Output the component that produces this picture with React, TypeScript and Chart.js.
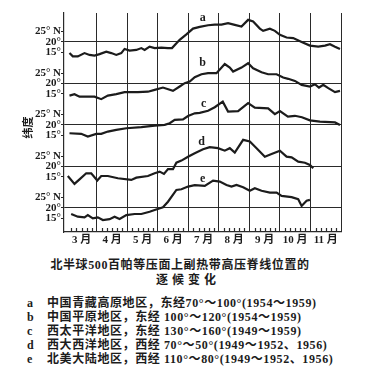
import React, { useEffect, useRef } from "react";
import { Chart, registerables } from "chart.js";

Chart.register(...registerables);

// Month labels (x axis, 6 pentads per month, March..November)
const MONTH_LABELS = ["3 月", "4 月", "5 月", "6 月", "7 月", "8 月", "9 月", "10 月", "11 月"];
const PENTADS_PER_MONTH = 6;
const TOTAL_PENTADS = 54;

// Y tick latitudes repeated in each panel
const Y_TICK_LATS = [15, 20, 25];
const Y_TICK_LABELS = ["15°", "20°", "25° N"];
const Y_TITLE = "纬度";

// Series names and vertical panel offsets (degrees)
const SERIES_NAMES = ["a", "b", "c", "d", "e"];
const PANEL_OFFSETS = [80, 60, 40, 20, 0];

// a 中国青藏高原地区
const aPentad = [0.63, 1.28, 2.26, 3.58, 4.57, 5.55, 6.54, 7.86, 8.84, 9.83, 10.81, 11.46, 12.45, 13.77, 14.75, 15.4, 16.38, 17.37, 18.69, 19.99, 20.78, 22.29, 23.61, 24.91, 26.23, 27.87, 29.18, 30.5, 31.8, 33.12, 34.44, 35.74, 36.73, 38.05, 38.7, 40.02, 41.0, 41.99, 43.3, 44.6, 46.26, 47.89, 49.53, 50.85, 51.83, 52.82, 53.8];
const aLat = [14.6, 13.0, 13.0, 14.6, 13.7, 13.4, 14.1, 15.3, 14.6, 13.7, 14.6, 16.6, 15.8, 16.1, 17.0, 16.1, 17.7, 17.0, 17.2, 17.0, 17.0, 21.0, 23.6, 26.4, 27.2, 28.0, 28.3, 28.3, 29.0, 28.2, 27.4, 30.6, 29.8, 26.4, 25.3, 26.3, 25.3, 23.4, 22.1, 21.8, 19.9, 18.2, 17.7, 18.2, 18.9, 17.7, 16.6];

// b 中国平原地区
const bPentad = [0.63, 1.61, 2.6, 5.55, 6.87, 8.17, 9.83, 11.46, 14.08, 16.05, 17.37, 19.0, 20.97, 22.29, 23.28, 24.26, 25.25, 26.57, 27.87, 29.52, 31.15, 32.14, 32.79, 34.44, 35.74, 36.73, 38.38, 39.68, 41.34, 42.63, 43.62, 44.94, 46.26, 47.89, 48.87, 49.67, 50.51, 51.5, 52.82, 53.8];
const bLat = [14.1, 14.8, 13.6, 13.6, 12.4, 14.1, 14.8, 15.8, 15.8, 16.0, 16.9, 18.0, 16.4, 18.5, 20.1, 20.9, 23.0, 24.4, 24.9, 24.9, 29.3, 27.6, 25.7, 27.6, 29.7, 27.3, 25.4, 24.4, 24.4, 22.8, 22.2, 21.2, 19.3, 18.5, 19.6, 18.0, 19.3, 17.7, 15.8, 16.4];

// c 西太平洋地区
const cPentad = [0.63, 2.93, 4.23, 5.89, 6.87, 8.17, 9.83, 11.8, 14.75, 17.37, 19.34, 20.33, 21.31, 22.94, 23.93, 25.25, 26.23, 27.87, 29.18, 30.76, 31.8, 33.77, 35.74, 37.06, 39.68, 41.0, 41.99, 43.56, 44.94, 46.32, 47.89, 49.86, 52.82, 53.8];
const cLat = [16.0, 15.7, 14.4, 15.7, 15.7, 16.8, 17.6, 18.4, 18.9, 19.7, 20.0, 20.8, 22.4, 22.7, 24.3, 25.6, 25.8, 26.8, 28.5, 31.2, 26.4, 26.6, 30.5, 28.3, 28.0, 25.2, 26.7, 24.0, 24.4, 23.7, 22.2, 21.6, 21.2, 20.0];

// d 西大西洋地区
const dPentad = [0.3, 1.61, 2.6, 3.92, 4.9, 6.09, 6.87, 8.17, 10.14, 12.78, 13.77, 16.05, 17.37, 18.35, 19.2, 19.99, 20.97, 21.64, 22.63, 23.93, 25.25, 26.88, 28.2, 29.83, 31.15, 32.14, 33.12, 34.76, 36.08, 37.4, 39.03, 40.35, 41.99, 43.3, 44.29, 45.59, 46.91, 47.89, 48.54];
const dLat = [15.4, 11.6, 13.8, 16.7, 16.7, 13.2, 15.4, 15.4, 14.3, 13.5, 14.6, 15.4, 16.7, 17.5, 16.4, 18.7, 18.7, 21.8, 22.8, 24.7, 26.4, 28.3, 29.3, 28.8, 27.6, 28.8, 26.7, 32.8, 32.0, 28.8, 24.7, 26.0, 27.6, 24.7, 24.4, 22.3, 21.8, 20.7, 19.1];

// e 北美大陆地区
const ePentad = [0.96, 2.26, 3.58, 4.23, 5.22, 6.2, 7.19, 8.51, 9.49, 10.48, 11.8, 13.43, 14.75, 16.38, 17.37, 19.0, 19.99, 21.64, 22.63, 23.93, 25.25, 27.22, 28.85, 30.17, 31.49, 32.47, 33.46, 34.76, 36.08, 37.06, 38.38, 40.02, 41.34, 42.32, 44.29, 45.59, 46.26, 47.24, 47.89];
const eLat = [17.1, 15.8, 15.5, 16.6, 15.0, 15.5, 14.2, 14.6, 15.8, 14.7, 16.6, 17.1, 17.1, 18.2, 19.0, 20.3, 23.0, 28.7, 29.0, 30.3, 31.0, 30.6, 33.2, 32.7, 31.1, 30.3, 31.1, 30.0, 28.3, 29.5, 28.3, 27.4, 27.4, 25.8, 25.2, 24.2, 21.0, 23.5, 23.9];

// Curve name labels placement (pentad, latitude within panel)
const LABEL_PENTAD = [26.8, 26.8, 27.0, 26.6, 26.8];
const LABEL_LAT = [31.6, 29.9, 30.1, 31.8, 34.0];

const SERIES_PENTADS = [aPentad, bPentad, cPentad, dPentad, ePentad];
const SERIES_LATS = [aLat, bLat, cLat, dLat, eLat];

const TITLE_LINE1 = "北半球500百帕等压面上副热带高压脊线位置的";
const TITLE_LINE2 = "逐候变化";
const LEGEND_LINES = [
  ["a", "中国青藏高原地区，东经70°～100°(1954～1959)"],
  ["b", "中国平原地区，东经 100°～120°(1954～1959)"],
  ["c", "西太平洋地区，东经 130°～160°(1949～1959)"],
  ["d", "西大西洋地区，西经 70°～50°(1949～1952、1956)"],
  ["e", "北美大陆地区，西经 110°～80°(1949～1952、1956)"],
];

const INK = "#1c1c1c";
const LINE = "#2a2a2a";
const FONT_FAMILY = '"Liberation Serif", "Noto Sans CJK SC", serif';

function panelLat(value: number): number {
  return value - 20 * Math.round((value - 20) / 20);
}

export default function App() {
  const canvasRef = useRef<HTMLCanvasElement | null>(null);

  useEffect(() => {
    const canvas = canvasRef.current;
    if (!canvas) return;

    const datasets = SERIES_NAMES.map((name, k) => ({
      label: name,
      data: SERIES_PENTADS[k].map((p, j) => ({ x: p, y: SERIES_LATS[k][j] + PANEL_OFFSETS[k] })),
      borderColor: INK,
      borderWidth: 2.2,
      pointRadius: 0,
      tension: 0,
      fill: false,
    }));

    const overlay = {
      id: "overlay",
      afterDatasetsDraw(chart: any) {
        const { ctx, chartArea, scales } = chart;
        const xs = scales.x;
        const ys = scales.y;
        ctx.save();
        // pentad tick marks along the bottom axis
        ctx.strokeStyle = LINE;
        ctx.lineWidth = 1.2;
        for (let i = 1; i < TOTAL_PENTADS; i++) {
          if (i % PENTADS_PER_MONTH === 0) continue;
          const px = Math.round(xs.getPixelForValue(i)) + 0.5;
          ctx.beginPath();
          ctx.moveTo(px, chartArea.bottom);
          ctx.lineTo(px, chartArea.bottom - 4);
          ctx.stroke();
        }
        // curve names
        ctx.fillStyle = INK;
        ctx.font = `bold 12px ${FONT_FAMILY}`;
        ctx.textAlign = "center";
        ctx.textBaseline = "middle";
        SERIES_NAMES.forEach((name, k) => {
          ctx.fillText(name, xs.getPixelForValue(LABEL_PENTAD[k]), ys.getPixelForValue(PANEL_OFFSETS[k] + LABEL_LAT[k]));
        });
        // rotated y-axis title
        const cy = (chartArea.top + chartArea.bottom) / 2 + 5;
        ctx.translate(28, cy);
        ctx.rotate(-Math.PI / 2);
        ctx.font = `bold 11px "Noto Sans CJK SC", sans-serif`;
        ctx.fillText(Y_TITLE, 0, 0);
        ctx.restore();
      },
    };

    const chart = new Chart(canvas, {
      type: "line",
      data: { datasets },
      plugins: [overlay],
      options: {
        animation: false,
        responsive: false,
        maintainAspectRatio: false,
        layout: { padding: { top: 13, right: 31, left: 0, bottom: 0 } },
        plugins: { legend: { display: false }, tooltip: { enabled: false }, title: { display: false } },
        scales: {
          x: {
            type: "linear",
            min: -0.45,
            max: TOTAL_PENTADS,
            afterBuildTicks: (scale: any) => {
              scale.ticks = Array.from({ length: TOTAL_PENTADS + 1 }, (_, i) => ({ value: i }));
            },
            afterFit: (scale: any) => {
              scale.height = 18;
            },
            border: { display: true, color: LINE, width: 1.2 },
            grid: {
              drawTicks: false,
              lineWidth: 1,
              color: (ctx: any) => {
                const v = ctx.tick ? ctx.tick.value : -1;
                return v > 0 && v % PENTADS_PER_MONTH === 0 ? LINE : "rgba(0,0,0,0)";
              },
            },
            ticks: {
              autoSkip: false,
              maxRotation: 0,
              padding: 2,
              color: INK,
              font: { family: FONT_FAMILY, size: 11, weight: "bold" },
              callback: (value: any) => {
                const v = Number(value);
                if (v % PENTADS_PER_MONTH === PENTADS_PER_MONTH / 2) {
                  return MONTH_LABELS[(v - PENTADS_PER_MONTH / 2) / PENTADS_PER_MONTH] || "";
                }
                return "";
              },
            },
          },
          y: {
            type: "linear",
            min: 8.43,
            max: 113.9,
            afterBuildTicks: (scale: any) => {
              const t: { value: number }[] = [];
              PANEL_OFFSETS.forEach((off) => Y_TICK_LATS.forEach((lat) => t.push({ value: off + lat })));
              t.sort((p, q) => p.value - q.value);
              scale.ticks = t;
            },
            afterFit: (scale: any) => {
              scale.width = 64;
            },
            border: { display: true, color: LINE, width: 1.2 },
            grid: {
              drawTicks: true,
              tickLength: 3,
              tickColor: LINE,
              lineWidth: 1,
              color: (ctx: any) => {
                const v = ctx.tick ? ctx.tick.value : 0;
                return panelLat(v) === 20 ? LINE : "rgba(0,0,0,0)";
              },
            },
            title: { display: false },
            ticks: {
              autoSkip: false,
              padding: 0,
              color: INK,
              font: { family: FONT_FAMILY, size: 11, weight: "bold" },
              callback: (value: any) => {
                const lat = panelLat(Number(value));
                const idx = Y_TICK_LATS.indexOf(lat);
                return idx >= 0 ? Y_TICK_LABELS[idx] : "";
              },
            },
          },
        },
      },
    });

    return () => {
      chart.destroy();
    };
  }, []);

  const captionFont: React.CSSProperties = {
    fontFamily: FONT_FAMILY,
    fontWeight: "bold",
    color: INK,
    position: "absolute",
    whiteSpace: "nowrap",
  };

  return (
    <div style={{ position: "absolute", left: 0, top: 0, width: 372, height: 380, background: "#fff", overflow: "hidden" }}>
      <canvas ref={canvasRef} width={372} height={250} style={{ position: "absolute", left: 0, top: 0, width: 372, height: 250 }} />
      <div style={{ ...captionFont, top: 257, left: 0, width: 360, textAlign: "center", fontSize: 12, lineHeight: "16px", letterSpacing: "0.6px" }}>
        {TITLE_LINE1}
      </div>
      <div style={{ ...captionFont, top: 272, left: 0, width: 376, textAlign: "center", fontSize: 12, lineHeight: "16px", letterSpacing: "4px" }}>
        {TITLE_LINE2}
      </div>
      <div style={{ ...captionFont, top: 296, left: 27, fontSize: 12, lineHeight: "14.1px", letterSpacing: "0.6px" }}>
        {LEGEND_LINES.map(([k, text]) => (
          <div key={k} style={{ display: "flex" }}>
            <span style={{ width: 20, display: "inline-block" }}>{k}</span>
            <span>{text}</span>
          </div>
        ))}
      </div>
    </div>
  );
}
